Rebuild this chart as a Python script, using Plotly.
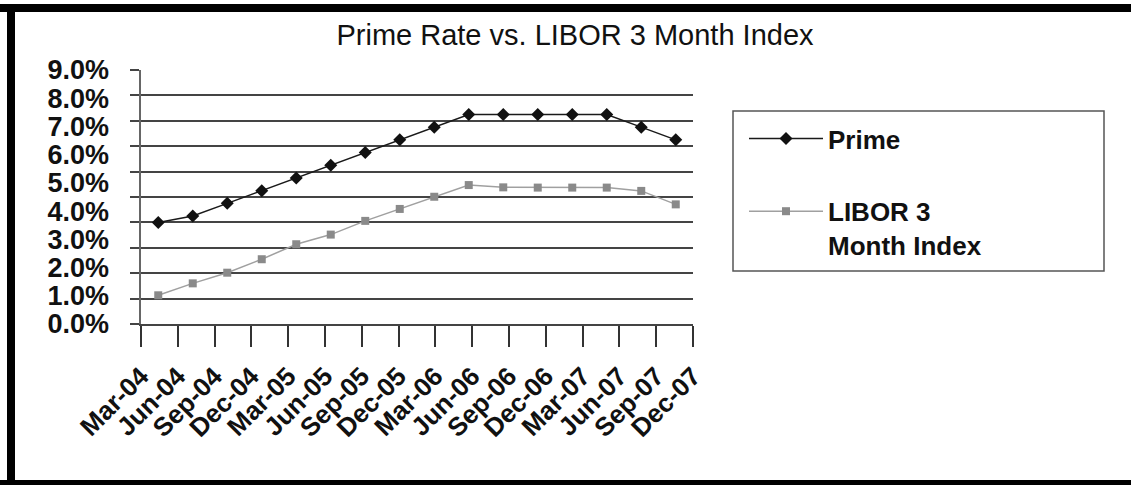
import plotly.graph_objects as go

categories = ["Mar-04", "Jun-04", "Sep-04", "Dec-04", "Mar-05", "Jun-05", "Sep-05", "Dec-05",
              "Mar-06", "Jun-06", "Sep-06", "Dec-06", "Mar-07", "Jun-07", "Sep-07", "Dec-07"]
prime = [4.00, 4.25, 4.75, 5.25, 5.75, 6.25, 6.75, 7.25, 7.75, 8.25, 8.25, 8.25, 8.25, 8.25, 7.75, 7.25]
libor = [1.13, 1.60, 2.02, 2.55, 3.14, 3.52, 4.06, 4.53, 5.01, 5.47, 5.38, 5.37, 5.37, 5.37, 5.24, 4.71]
y_tick_labels = ["0.0%", "1.0%", "2.0%", "3.0%", "4.0%", "5.0%", "6.0%", "7.0%", "8.0%", "9.0%"]

W, H = 1131, 485
L, R, T, B = 141, 693, 70, 324  # plot area pixel bounds
FONT = "Liberation Sans, Arial, sans-serif"

n = len(categories)
xi = list(range(n))
# tick marks drawn evenly across the plot width (n ticks, n-1 intervals)
tickpos = [-0.5 + k * n / (n - 1) for k in range(n)]

fig = go.Figure()
fig.add_trace(go.Scatter(
    x=xi, y=prime, name="Prime", mode="lines+markers",
    line=dict(color="#1a1a1a", width=1.5),
    marker=dict(symbol="diamond", size=10, color="#111111"),
    legendgroup="a",
))
fig.add_trace(go.Scatter(
    x=xi, y=libor, name="LIBOR 3<br>Month Index", mode="lines+markers",
    line=dict(color="#a0a0a0", width=1.5),
    marker=dict(symbol="square", size=8, color="#8a8a8a"),
    legendgroup="b",
))
# empty trace so the label axis (y2) gets drawn
fig.add_trace(go.Scatter(x=[], y=[], yaxis="y2", showlegend=False, hoverinfo="skip"))

def px_x(p):
    return (p - L) / (R - L)

def px_y(p):
    return (B - p) / (B - T)

shapes = [
    # outer heavy frame (top, left, bottom)
    dict(type="rect", xref="paper", yref="paper", x0=px_x(0), x1=px_x(W), y0=px_y(12), y1=px_y(4),
         fillcolor="black", line=dict(width=0), layer="above"),
    dict(type="rect", xref="paper", yref="paper", x0=px_x(7), x1=px_x(15), y0=px_y(485), y1=px_y(4),
         fillcolor="black", line=dict(width=0), layer="above"),
    dict(type="rect", xref="paper", yref="paper", x0=px_x(0), x1=px_x(W), y0=px_y(485), y1=px_y(480),
         fillcolor="black", line=dict(width=0), layer="above"),
    # legend box
    dict(type="rect", xref="paper", yref="paper", x0=px_x(733), x1=px_x(1104), y0=px_y(271), y1=px_y(111),
         fillcolor="rgba(0,0,0,0)", line=dict(width=1.5, color="#555555")),
]

fig.update_layout(
    width=W, height=H,
    margin=dict(l=L, r=W - R, t=T, b=H - B, pad=0),
    paper_bgcolor="white", plot_bgcolor="white",
    font=dict(family=FONT, color="#111111"),
    title=dict(text="Prime Rate vs. LIBOR 3 Month Index", x=575 / W, xref="container", xanchor="center",
               y=1 - 35 / H, yref="container", yanchor="middle",
               font=dict(size=29, family=FONT, color="#111111")),
    showlegend=True,
    legend=dict(x=px_x(744), y=px_y(115), xref="paper", yref="paper", xanchor="left", yanchor="top",
                bgcolor="rgba(0,0,0,0)", borderwidth=0, valign="top",
                font=dict(size=26, family=FONT, color="#111111", weight="bold"),
                tracegroupgap=36, itemwidth=74, traceorder="grouped"),
    shapes=shapes,
    xaxis=dict(range=[-0.5, n - 0.5], tickmode="array", tickvals=tickpos, ticktext=categories,
               tickangle=-45, ticks="outside", ticklen=21, tickwidth=1.5, tickcolor="#333333",
               showgrid=False, zeroline=False, showline=True, linecolor="#444444", linewidth=1.5,
               tickfont=dict(size=26, family=FONT, color="#111111", weight="bold"),
               ticklabelstandoff=4, fixedrange=True),
    yaxis=dict(range=[0, 10], tickmode="linear", tick0=0, dtick=1, showticklabels=False,
               ticks="outside", ticklen=9, tickwidth=1.5, tickcolor="#444444",
               showgrid=True, gridcolor="#444444", gridwidth=1.5, zeroline=False,
               showline=True, linecolor="#666666", linewidth=1.5),
    yaxis2=dict(overlaying="y", anchor="x", side="left", range=[0, 9], tickmode="array",
                tickvals=list(range(len(y_tick_labels))), ticktext=y_tick_labels,
                showgrid=False, zeroline=False, showline=False, ticks="",
                ticklabelstandoff=31,
                tickfont=dict(size=27, family=FONT, color="#111111", weight="bold")),
)

fig.write_html("out.html", config={"displayModeBar": False},
               post_script="document.body.style.margin='0';document.body.style.overflow='hidden';")
